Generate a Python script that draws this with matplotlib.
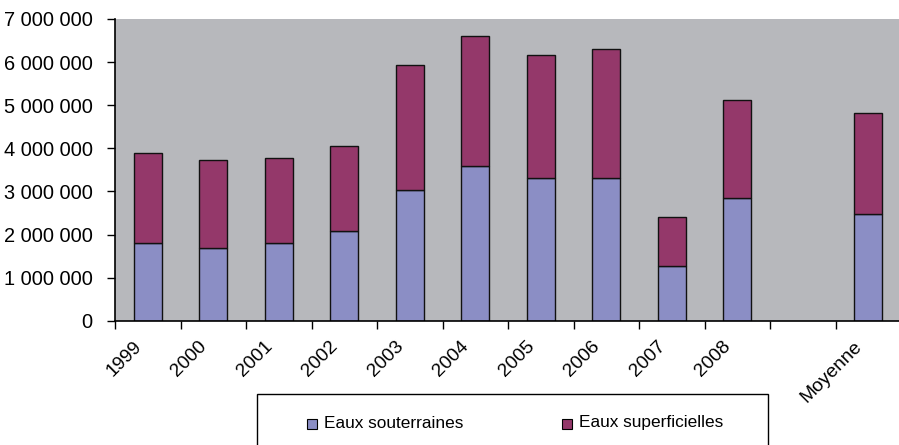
import matplotlib
matplotlib.use("Agg")
import matplotlib.pyplot as plt
from matplotlib.patches import Rectangle
from matplotlib.ticker import FuncFormatter

plt.rcParams['font.family'] = ['Liberation Sans', 'DejaVu Sans']

# Volumes prélevés par année (m3)
categories = ["1999", "2000", "2001", "2002", "2003", "2004", "2005",
              "2006", "2007", "2008", "", "Moyenne"]
eaux_souterraines = [1800000, 1690000, 1800000, 2070000, 3040000, 3600000,
                     3300000, 3300000, 1280000, 2840000, None, 2470000]
eaux_superficielles = [2080000, 2050000, 1970000, 1990000, 2900000, 3010000,
                       2870000, 3010000, 1130000, 2290000, None, 2340000]
series_names = ["Eaux souterraines", "Eaux superficielles"]
y_ticks = [0, 1000000, 2000000, 3000000, 4000000, 5000000, 6000000, 7000000]

col_sout = "#8B8EC5"
col_sup = "#94386A"
bg = "#B7B8BC"

W, H = 899, 445
fig = plt.figure(figsize=(W / 100, H / 100), dpi=100)
ax = fig.add_axes([115 / W, (H - 320.7) / H, 786 / W, 301.7 / H])
ax.set_facecolor(bg)

idx = [i for i, c in enumerate(categories) if c != ""]
centers = [i + 0.5 for i in idx]
low = [eaux_souterraines[i] for i in idx]
high = [eaux_superficielles[i] for i in idx]

bw = 0.42
ax.bar(centers, low, width=bw, color=col_sout, edgecolor="#111111",
       linewidth=1.0, zorder=3)
ax.bar(centers, high, width=bw, bottom=low, color=col_sup,
       edgecolor="#111111", linewidth=1.0, zorder=3)

ax.set_xlim(0, len(categories))
ax.set_ylim(0, 7000000)

for s in ("top", "right"):
    ax.spines[s].set_visible(False)
for s in ("left", "bottom"):
    ax.spines[s].set_color("black")
    ax.spines[s].set_linewidth(1.2)
    ax.spines[s].set_zorder(5)

ax.set_yticks(y_ticks)
ax.yaxis.set_major_formatter(
    FuncFormatter(lambda v, p: f"{int(v):,}".replace(",", " ")))
ax.tick_params(axis="y", direction="out", length=6, width=1.0,
               labelsize=14.4, pad=10, colors="black")

ax.set_xticks(range(len(categories) + 1))
ax.set_xticklabels([])
ax.tick_params(axis="x", direction="out", length=6, width=1.0,
               colors="black")

# Étiquettes de catégories inclinées
for i, c in enumerate(categories):
    if not c:
        continue
    ax.annotate(c, xy=(i + 0.5, 0), xycoords="data",
                xytext=(-15, -17), textcoords="offset pixels",
                rotation=45, ha="right", va="top",
                rotation_mode="anchor", fontsize=13.8,
                annotation_clip=False)

# Légende encadrée sous le graphique
fig.patches.append(Rectangle((257 / W, (H - 460) / H), 511 / W, 66 / H,
                             transform=fig.transFigure, facecolor="white",
                             edgecolor="black", linewidth=1.0,
                             clip_on=False))
leg_items = [(307, col_sout, series_names[0]),
             (562, col_sup, series_names[1])]
for x0, col, name in leg_items:
    fig.patches.append(Rectangle((x0 / W, (H - 428.5) / H), 10 / W, 10 / H,
                                 transform=fig.transFigure, facecolor=col,
                                 edgecolor="black", linewidth=0.8))
    fig.text((x0 + 17) / W, (H - 423) / H, name, fontsize=12.4,
             ha="left", va="center")

fig.savefig("out.png", dpi=100, facecolor="white")
